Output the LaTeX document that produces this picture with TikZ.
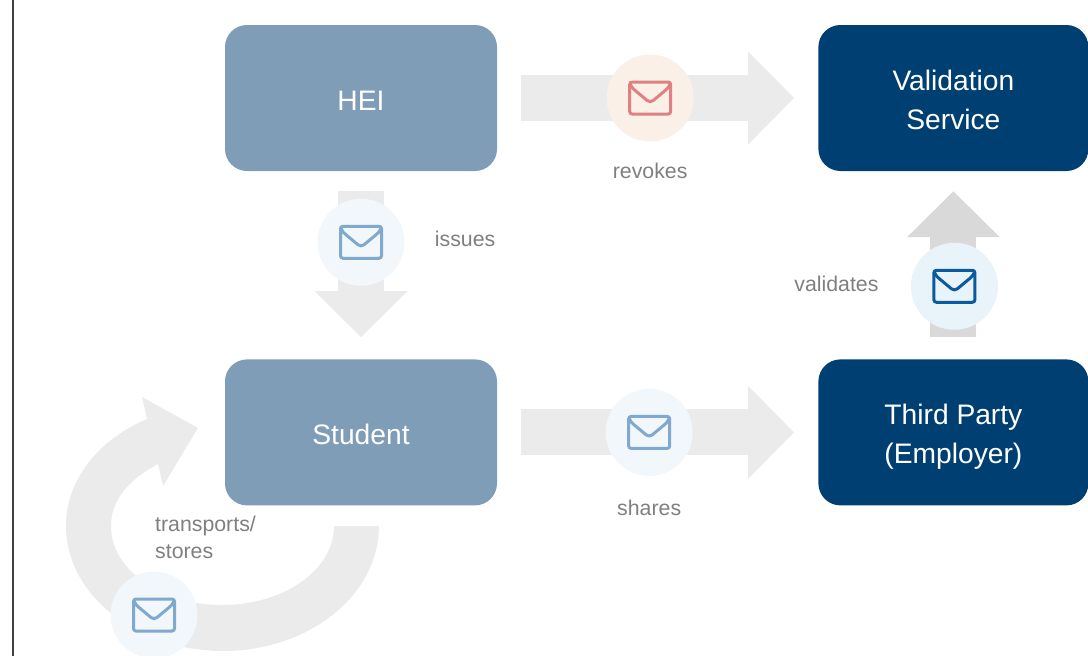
\documentclass[tikz,border=0pt]{standalone}
\usepackage{fontspec}
\setmainfont{Liberation Sans}
\usetikzlibrary{positioning,arrows.meta}

\definecolor{partybox}{HTML}{7F9DB7}
\definecolor{servicebox}{HTML}{003F72}
\definecolor{flowgray}{HTML}{EBEBEB}
\definecolor{flowdark}{HTML}{D9D9D9}
\definecolor{labelgray}{HTML}{7F7F7F}
\definecolor{sideline}{HTML}{404040}
\definecolor{redbg}{HTML}{FAF0E8}
\definecolor{redline}{HTML}{E08080}
\definecolor{bluebg}{HTML}{F2F7FB}
\definecolor{blueline}{HTML}{7FA9CF}
\definecolor{darkbg}{HTML}{E8F3FA}
\definecolor{darkline}{HTML}{0A5A9E}

\tikzset{
  party/.style={rounded corners=22pt,minimum width=272pt,minimum height=146pt,inner sep=0pt},
  partytext/.style={inner sep=0pt,align=center,text=white,font=\fontsize{28.2}{39}\selectfont},
  flow/.style={line width=46pt,draw=flowgray,-{Triangle[length=46pt,width=90pt]}},
  mail/.style={circle,minimum size=87pt,inner sep=0pt},
  lbl/.style={text=labelgray,inner sep=0pt,align=left,font=\fontsize{21.3}{27}\selectfont},
  envelope/.pic={
    \draw[line width=3pt,rounded corners=2.5pt] (-20.5,-16) rectangle (20.5,16);
    \draw[line width=3pt,line cap=round,line join=round]
      (-20,-14) .. controls (-18,-10) and (-17,-9) .. (-15,-7.5)
      -- (-3,2.5) .. controls (-1,4) and (1,4) .. (3,2.5) -- (15,-7.5)
      .. controls (17,-9) and (18,-10) .. (20,-14);
  }
}

\begin{document}
\begin{tikzpicture}[x=1pt,y=-1pt]
\useasboundingbox (0,0) rectangle (1088,656);
\draw [sideline,line width=1.5pt] (13,0) -- (13,656);

\node [party,fill=partybox] (hei) at (361,98) {};
\node [party,fill=partybox,below=188pt of hei] (student) {};
\node [party,fill=servicebox,right=321pt of hei,minimum width=270pt] (val) {};
\node [party,fill=servicebox,below=188pt of val,minimum width=270pt] (third) {};

\node [partytext,yshift=-3pt] (heitxt) at (hei) {HEI};
\node [partytext,yshift=-2pt] (studenttxt) at (student) {Student};
\node [partytext,yshift=-2pt] (valtxt) at (val) {Validation\\Service};
\node [partytext,yshift=-4pt] (thirdtxt) at (third) {Third Party\\(Employer)};

\draw [flow,shorten <=24pt,shorten >=24pt] (hei) -- (val);
\draw [flow,shorten <=24pt,shorten >=24pt] (student) -- (third);
\draw [flow,shorten <=20pt,shorten >=22pt] (hei) -- (student);
\draw [flow,draw=flowdark,xshift=1pt,shorten <=22pt,shorten >=20pt] (third) -- (val);

% the loop below the student
\fill [flowgray] (379,526) .. controls (379,595) and (309,651) .. (223,651)
  .. controls (137,651) and (66,595) .. (66,526)
  .. controls (66,480) and (98,440) .. (147,419)
  -- (142,397) -- (198,428) -- (163,486) -- (158,464)
  .. controls (128,480) and (111,500) .. (111,526)
  .. controls (111,570) and (161,605) .. (222,605)
  .. controls (284,605) and (334,570) .. (334,526) -- cycle;

\path (hei) -- (val) node [mail,fill=redbg,pos=.4766] (revokes) {};
\path (student) -- (third) node [mail,fill=bluebg,pos=.4735] (shares) {};
\path (hei) -- (student) node [mail,fill=bluebg,pos=.378] (issues) {};
\path (third) -- (val) node [mail,fill=darkbg,xshift=1pt,pos=.388] (validates) {};
\node [mail,fill=bluebg] (transports) at (154,615) {};

\pic [draw=redline] at (revokes) {envelope};
\pic [draw=blueline] at (shares) {envelope};
\pic [draw=blueline] at (issues) {envelope};
\pic [draw=darkline] at (validates) {envelope};
\pic [draw=blueline] at (transports) {envelope};

\node [lbl,below=21pt of revokes] (revokeslbl) {revokes};
\node [lbl,below=24pt of shares] (shareslbl) {shares};
\node [lbl,right=30pt of issues,yshift=3pt] (issueslbl) {issues};
\node [lbl,left=32pt of validates,yshift=2pt] (validateslbl) {validates};
\node [lbl,anchor=south west] (transportslbl) at (155,559) {transports/\\stores};
\end{tikzpicture}
\end{document}
